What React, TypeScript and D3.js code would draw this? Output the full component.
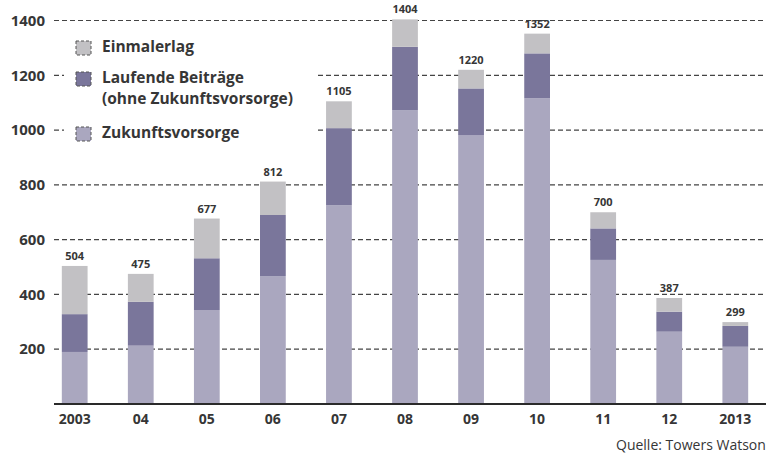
import React from 'react'
import * as d3 from 'd3'

const years = ['2003', '04', '05', '06', '07', '08', '09', '10', '11', '12', '2013']
const zukunft = [190, 213, 343, 467, 726, 1073, 982, 1116, 526, 264, 209]
const laufend = [138, 160, 189, 223, 281, 231, 170, 164, 115, 73, 76]
const einmal = [176, 102, 145, 122, 98, 100, 68, 72, 59, 50, 14]
const totals = [504, 475, 677, 812, 1105, 1404, 1220, 1352, 700, 387, 299]
const yTicks = [200, 400, 600, 800, 1000, 1200, 1400]

const keys = ['zukunft', 'laufend', 'einmal']
const colors = { zukunft: '#aaa7bf', laufend: '#7a769b', einmal: '#c2c1c4' }
const legend = [
  { key: 'einmal', lines: ['Einmalerlag'] },
  { key: 'laufend', lines: ['Laufende Beiträge', '(ohne Zukunftsvorsorge)'] },
  { key: 'zukunft', lines: ['Zukunftsvorsorge'] },
]

const W = 766
const H = 456
const font = '"Open Sans", "Noto Sans", sans-serif'
const ink = '#363636'

export default function App() {
  const rows = years.map((y, i) => ({ year: y, zukunft: zukunft[i], laufend: laufend[i], einmal: einmal[i] }))
  const series = d3.stack().keys(keys)(rows as any)

  const x = d3.scaleBand().domain(years).range([42, 768]).paddingInner(0.61).paddingOuter(0.3)
  const y = d3.scaleLinear().domain([0, 1400]).range([404, 20.5])

  const legendY = [47, 78, 133]

  return (
    <svg width={W} height={H} style={{ position: 'absolute', left: 0, top: 0, background: '#fff' }} fontFamily={font}>
      {yTicks.map(t => (
        <g key={t}>
          <line x1={54} x2={W} y1={y(t)} y2={y(t)} stroke="#444" strokeWidth={1.2} strokeDasharray="5,3" />
          <text x={45} y={y(t)} dy="0.35em" textAnchor="end" fontSize={15} fontWeight={700} fill={ink}>{t}</text>
        </g>
      ))}
      <rect x={64} y={32} width={254} height={126} fill="#fff" />
      {series.map(s => (
        <g key={s.key} fill={(colors as any)[s.key]}>
          {s.map((d, i) => (
            <rect key={i} x={x(years[i])} y={y(d[1])} width={x.bandwidth()} height={y(d[0]) - y(d[1])} />
          ))}
        </g>
      ))}
      {totals.map((t, i) => (
        <text key={i} x={(x(years[i]) as number) + x.bandwidth() / 2} y={y(t) - 6} textAnchor="middle" fontSize={11} fontWeight={700} fill={ink}>{t}</text>
      ))}
      <line x1={54} x2={W} y1={y(0)} y2={y(0)} stroke="#2a2a2a" strokeWidth={2} />
      {years.map(yr => (
        <text key={yr} x={(x(yr) as number) + x.bandwidth() / 2} y={424} textAnchor="middle" fontSize={14} fontWeight={700} fill={ink}>{yr}</text>
      ))}
      {legend.map((l, i) => (
        <g key={l.key}>
          <rect x={76} y={legendY[i] - 6} width={15} height={14} fill={(colors as any)[l.key]} stroke="#555" strokeWidth={1} strokeDasharray="3,2" />
          {l.lines.map((ln, j) => (
            <text key={j} x={102} y={legendY[i] + j * 20.5} dy="0.35em" fontSize={15.5} fontWeight={700} fill={ink}>{ln}</text>
          ))}
        </g>
      ))}
      <text x={616} y={450} fontSize={14} fill={ink}>Quelle: Towers Watson</text>
    </svg>
  )
}
